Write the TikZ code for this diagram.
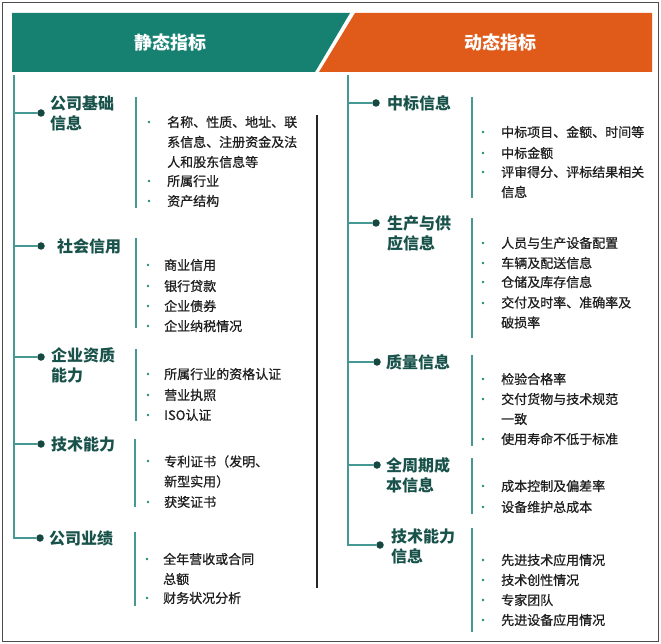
\documentclass[tikz,border=0pt]{standalone}
\usepackage{fontspec}
\setmainfont{Noto Sans CJK SC}
\newfontfamily\bodyfont{Noto Sans CJK SC}[FakeBold=0.8]
\definecolor{bangreen}{RGB}{22,129,112}
\definecolor{banorange}{RGB}{224,90,26}
\definecolor{headc}{RGB}{24,82,74}
\definecolor{linec}{RGB}{70,152,146}
\definecolor{dotc}{RGB}{22,72,66}
\definecolor{bulc}{RGB}{30,140,120}
\begin{document}
\begin{tikzpicture}[x=1pt,y={(0pt,-1pt)},
  head/.style={font=\fontsize{16}{20}\selectfont\bfseries, text=headc, anchor=west, inner sep=0pt, align=left},
  item/.style={font=\bodyfont\fontsize{13}{20}\selectfont, text=black!88, anchor=west, inner sep=0pt, align=left},
  bantext/.style={font=\fontsize{18}{22}\selectfont\bfseries, text=white},
  dotn/.style={circle, fill=dotc, inner sep=0pt, minimum size=7.5pt},
  bul/.style={circle, fill=bulc, inner sep=0pt, minimum size=2.6pt},
  trunk/.style={draw=linec, line width=1.3pt},
  divider/.style={draw=linec, line width=1.3pt}]
\useasboundingbox (0,0) rectangle (661,644);
\draw[gray!60!black, line width=0.8pt] (2,2) rectangle (658,641);
% banners
\fill[bangreen] (12,13) -- (350,13) -- (315,72) -- (12,72) -- cycle;
\fill[banorange] (355,13) -- (652,13) -- (652,72) -- (319,72) -- cycle;
\node[bantext] (bs) at (170,43) {静态指标};
\node[bantext] (bd) at (500,43) {动态指标};
% middle line
\coordinate (mtop) at (317,115);
\coordinate (mbot) at (317,588);
\draw[black!85, line width=1.3pt] (mtop) -- (mbot);

% ===== left tree =====
\coordinate (ltop) at (14,75);
\node[dotn] (ld1) at (41,113) {};
\node[dotn] (ld2) at (41,246) {};
\node[dotn] (ld3) at (41,357) {};
\node[dotn] (ld4) at (41,444) {};
\node[dotn] (ld5) at (40,538) {};
\draw[trunk] (ltop) -- (ltop |- ld5) -- (ld5);
\foreach \d in {ld1,ld2,ld3,ld4} \draw[trunk] (ltop |- \d) -- (\d);

\node[head] (lh1) at (50,113) {公司基础\\信息};
\node[head] (lh2) at (57,246) {社会信用};
\node[head] (lh3) at (51,365) {企业资质\\能力};
\node[head] (lh4) at (51,444) {技术能力};
\node[head] (lh5) at (49,538) {公司业绩};

% group 1
\coordinate (lv1a) at (136,97); \coordinate (lv1b) at (136,208);
\draw[divider] (lv1a) -- (lv1b);
\node[item] (l11) at (167,142) {名称、性质、地址、联\\系信息、注册资金及法\\人和股东信息等};
\node[item] (l12) at (167,181) {所属行业};
\node[item] (l13) at (167,201) {资产结构};
\node[bul] (lb11) at (149,122) {};
\node[bul] (lb12) at (149,181) {};
\node[bul] (lb13) at (149,201) {};
% group 2
\coordinate (lv2a) at (136,238); \coordinate (lv2b) at (136,328);
\draw[divider] (lv2a) -- (lv2b);
\node[item] (l21) at (164,265) {商业信用};
\node[item] (l22) at (164,286) {银行贷款};
\node[item] (l23) at (164,306) {企业债券};
\node[item] (l24) at (164,326) {企业纳税情况};
\foreach \y/\n in {265/a,286/b,306/c,326/d} \node[bul] (lb2\n) at (148,\y) {};
% group 3
\coordinate (lv3a) at (136,349); \coordinate (lv3b) at (136,421);
\draw[divider] (lv3a) -- (lv3b);
\node[item] (l31) at (164,374) {所属行业的资格认证};
\node[item] (l32) at (164,395) {营业执照};
\node[item] (l33) at (164,415) {ISO认证};
\foreach \y/\n in {374/a,395/b,415/c} \node[bul] (lb3\n) at (148,\y) {};
% group 4
\coordinate (lv4a) at (135,439); \coordinate (lv4b) at (135,507);
\draw[divider] (lv4a) -- (lv4b);
\node[item] (l41) at (164,471.5) {专利证书（发明、\\新型实用）};
\node[item] (l42) at (164,502) {获奖证书};
\foreach \y/\n in {461/a,502/b} \node[bul] (lb4\n) at (148,\y) {};
% group 5
\coordinate (lv5a) at (135,532); \coordinate (lv5b) at (135,606);
\draw[divider] (lv5a) -- (lv5b);
\node[item] (l51) at (163,569) {全年营收或合同\\总额};
\node[item] (l52) at (163,598) {财务状况分析};
\foreach \y/\n in {559/a,598/b} \node[bul] (lb5\n) at (147,\y) {};

% ===== right tree =====
\coordinate (rtop) at (348,75);
\node[dotn] (rd1) at (376,103) {};
\node[dotn] (rd2) at (376,223) {};
\node[dotn] (rd3) at (377,362) {};
\node[dotn] (rd4) at (377,465) {};
\node[dotn] (rd5) at (380,545) {};
\draw[trunk] (rtop) -- (rtop |- rd5) -- (rd5);
\foreach \d in {rd1,rd2,rd3,rd4} \draw[trunk] (rtop |- \d) -- (\d);

\node[head] (rh1) at (387,103) {中标信息};
\node[head] (rh2) at (387,233) {生产与供\\应信息};
\node[head] (rh3) at (386,362) {质量信息};
\node[head] (rh4) at (386,475) {全周期成\\本信息};
\node[head] (rh5) at (391,546) {技术能力\\信息};

% group 1
\coordinate (rv1a) at (472,97); \coordinate (rv1b) at (472,198);
\draw[divider] (rv1a) -- (rv1b);
\node[item] (r11) at (501,132) {中标项目、金额、时间等};
\node[item] (r12) at (501,153) {中标金额};
\node[item] (r13) at (501,182) {评审得分、评标结果相关\\信息};
\foreach \y/\n in {132/a,153/b,172/c} \node[bul] (rb1\n) at (483,\y) {};
% group 2
\coordinate (rv2a) at (472,218); \coordinate (rv2b) at (472,338);
\draw[divider] (rv2a) -- (rv2b);
\node[item] (r21) at (501,243) {人员与生产设备配置};
\node[item] (r22) at (501,263) {车辆及配送信息};
\node[item] (r23) at (501,282) {仓储及库存信息};
\node[item] (r24) at (501,312.5) {交付及时率、准确率及\\破损率};
\foreach \y/\n in {243/a,263/b,282/c,303/d} \node[bul] (rb2\n) at (483,\y) {};
% group 3
\coordinate (rv3a) at (472,355); \coordinate (rv3b) at (472,446);
\draw[divider] (rv3a) -- (rv3b);
\node[item] (r31) at (501,379) {检验合格率};
\node[item] (r32) at (501,409) {交付货物与技术规范\\一致};
\node[item] (r33) at (501,439) {使用寿命不低于标准};
\foreach \y/\n in {379/a,399/b,439/c} \node[bul] (rb3\n) at (483,\y) {};
% group 4
\coordinate (rv4a) at (472,458); \coordinate (rv4b) at (472,514);
\draw[divider] (rv4a) -- (rv4b);
\node[item] (r41) at (501,486) {成本控制及偏差率};
\node[item] (r42) at (501,507) {设备维护总成本};
\foreach \y/\n in {486/a,507/b} \node[bul] (rb4\n) at (483,\y) {};
% group 5
\coordinate (rv5a) at (472,528); \coordinate (rv5b) at (472,632);
\draw[divider] (rv5a) -- (rv5b);
\node[item] (r51) at (501,560) {先进技术应用情况};
\node[item] (r52) at (501,580) {技术创性情况};
\node[item] (r53) at (501,600) {专家团队};
\node[item] (r54) at (501,620) {先进设备应用情况};
\foreach \y/\n in {560/a,580/b,600/c,620/d} \node[bul] (rb5\n) at (483,\y) {};
\end{tikzpicture}
\end{document}
